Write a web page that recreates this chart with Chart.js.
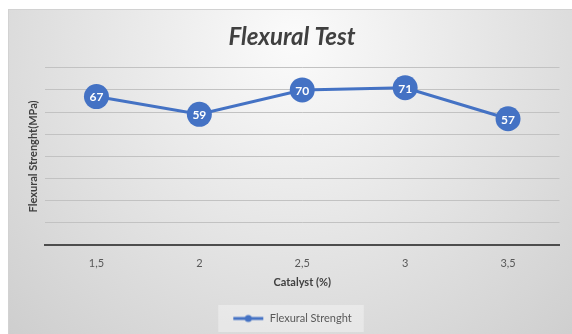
<!DOCTYPE html>
<html>
<head>
<meta charset="utf-8">
<script src="https://cdn.jsdelivr.net/npm/chart.js@4"></script>
<style>
    html, body { margin: 0; padding: 0; background: #fff; }
    #wrap { width: 572px; height: 334px; }
</style>
</head>
<body>
<div id="wrap"><canvas id="chart" width="572" height="334"></canvas></div>
<script>
let categories = ['1,5', '2', '2,5', '3', '3,5'];
let strength = [67, 59, 70, 71, 57];
let series_name = 'Flexural Strenght';

let blue = '#4472C4';
let font_family = 'Lato, "Open Sans", sans-serif';

// legend marker: line with a dot in the middle
function legendMarker() {
    let c = document.createElement('canvas');
    c.width = 32;
    c.height = 10;
    let g = c.getContext('2d');
    g.strokeStyle = blue;
    g.lineWidth = 3;
    g.beginPath();
    g.moveTo(1, 5);
    g.lineTo(31, 5);
    g.stroke();
    g.fillStyle = blue;
    g.beginPath();
    g.arc(16, 5, 3.5, 0, Math.PI * 2);
    g.fill();
    return c;
}

let background = {
    id: 'background',
    beforeDraw(chart) {
        let ctx = chart.ctx;
        ctx.save();
        ctx.fillStyle = '#ffffff';
        ctx.fillRect(0, 0, chart.width, chart.height);
        let grad = ctx.createRadialGradient(295, 40, 0, 295, 40, 420);
        grad.addColorStop(0, '#fbfbfb');
        grad.addColorStop(1, '#cdcdcd');
        ctx.fillStyle = grad;
        ctx.fillRect(8, 9, chart.width - 8, chart.height - 9);
        ctx.strokeStyle = '#d2d2d2';
        ctx.lineWidth = 1;
        ctx.strokeRect(8.5, 9.5, chart.width, chart.height);
        // legend box
        let box = chart.legend.legendHitBoxes[0];
        if (box) {
            ctx.fillStyle = 'rgba(255,255,255,0.35)';
            ctx.fillRect(box.left - 14, box.top - 8, box.width + 26, box.height + 16);
        }
        ctx.restore();
    }
};

let pointLabels = {
    id: 'pointLabels',
    afterDatasetsDraw(chart) {
        let ctx = chart.ctx;
        let meta = chart.getDatasetMeta(0);
        ctx.save();
        ctx.fillStyle = '#ffffff';
        ctx.font = 'bold 12px ' + font_family;
        ctx.textAlign = 'center';
        ctx.textBaseline = 'middle';
        meta.data.forEach((pt, i) => {
            ctx.fillText(String(strength[i]), pt.x, pt.y + 1);
        });
        ctx.restore();
    }
};

new Chart(document.getElementById('chart'), {
    type: 'line',
    data: {
        labels: categories,
        datasets: [{
            label: series_name,
            data: strength,
            borderColor: blue,
            backgroundColor: blue,
            borderWidth: 3,
            pointRadius: 12.5,
            pointHoverRadius: 12.5,
            pointBackgroundColor: blue,
            pointBorderWidth: 0,
            tension: 0
        }]
    },
    options: {
        responsive: false,
        animation: false,
        layout: {
            padding: { top: 9, right: 0, bottom: 0, left: 12 }
        },
        plugins: {
            tooltip: { enabled: false },
            title: {
                display: true,
                text: 'Flexural Test',
                color: '#404040',
                font: { family: font_family, size: 24, weight: 'bold', style: 'italic' },
                padding: { top: 14, bottom: 16 }
            },
            legend: {
                position: 'bottom',
                labels: {
                    color: '#595959',
                    font: { family: font_family, size: 11 },
                    usePointStyle: true,
                    pointStyleWidth: 32,
                    boxHeight: 10,
                    padding: 10,
                    generateLabels(chart) {
                        return [{
                            text: series_name,
                            pointStyle: legendMarker(),
                            fillStyle: blue,
                            strokeStyle: blue,
                            lineWidth: 0,
                            datasetIndex: 0,
                            fontColor: '#595959'
                        }];
                    }
                }
            }
        },
        scales: {
            x: {
                offset: true,
                grid: { display: false, drawTicks: false },
                border: { display: true, color: '#4d4d4d', width: 2 },
                ticks: {
                    color: '#595959',
                    padding: 12,
                    font: { family: font_family, size: 11 }
                },
                title: {
                    display: true,
                    text: 'Catalyst (%)',
                    color: '#404040',
                    font: { family: font_family, size: 11, weight: 'bold' },
                    padding: { top: 4, bottom: 14 }
                },
                afterFit(scale) {
                    scale.height = 58;
                }
            },
            y: {
                min: 0,
                max: 80,
                ticks: { display: false, stepSize: 10 },
                grid: { color: '#c2c2c2', lineWidth: 1, drawTicks: false },
                border: { display: false },
                title: {
                    display: true,
                    text: 'Flexural Strenght(MPa)',
                    color: '#404040',
                    font: { family: font_family, size: 11, weight: 'bold' },
                    padding: { top: 15, bottom: 0 }
                },
                afterFit(scale) {
                    scale.width = 33;
                }
            },
            // empty right margin so the plot ends where the reference does
            yRight: {
                position: 'right',
                min: 0,
                max: 80,
                ticks: { display: false },
                grid: { display: false, drawTicks: false },
                border: { display: false },
                afterFit(scale) {
                    scale.width = 12;
                }
            }
        }
    },
    plugins: [background, pointLabels]
});
</script>
</body>
</html>
